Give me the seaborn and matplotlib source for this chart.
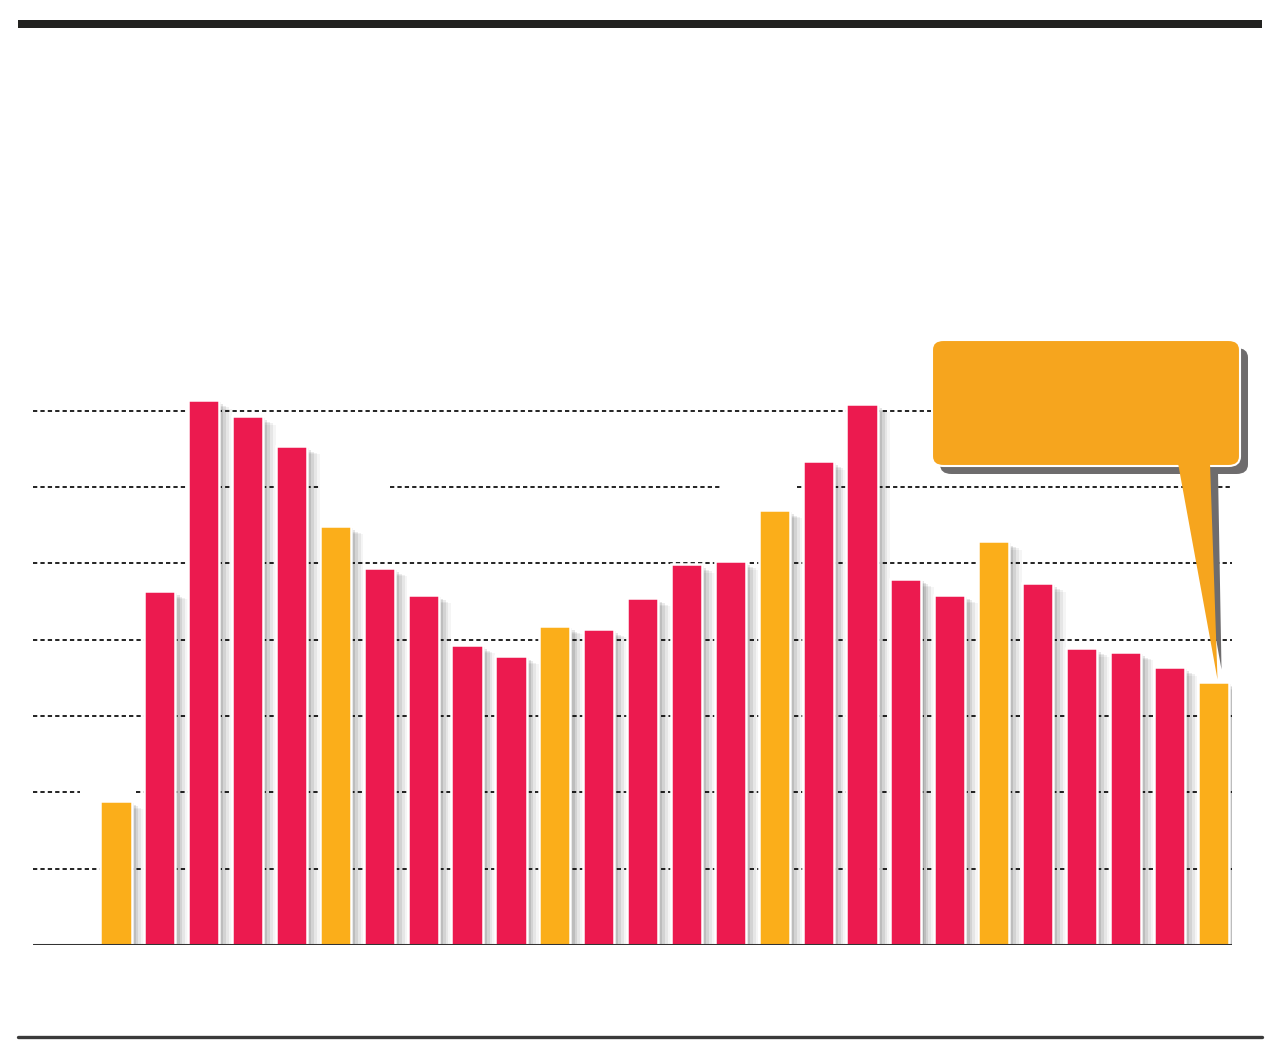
import pandas as pd
import matplotlib.pyplot as plt
import seaborn as sns
from matplotlib import patheffects as pe
from matplotlib.patches import FancyBboxPatch, Polygon, Rectangle
from matplotlib.lines import Line2D

sns.set_style('white')

# ---------------- DATA ----------------
periods = [str(i) for i in range(1, 27)]
values = [1.89, 4.64, 7.14, 6.93, 6.54, 5.49, 4.94, 4.59, 3.93, 3.79,
          4.18, 4.14, 4.55, 4.99, 5.03, 5.70, 6.34, 7.09, 4.80, 4.59,
          5.29, 4.74, 3.89, 3.84, 3.64, 3.45]
groups = ["hi", "lo", "lo", "lo", "lo", "hi", "lo", "lo", "lo", "lo",
          "hi", "lo", "lo", "lo", "lo", "hi", "lo", "lo", "lo", "lo",
          "hi", "lo", "lo", "lo", "lo", "hi"]
grid_levels = [1, 2, 3, 4, 5, 6, 7]

RED = "#EC1A4F"
ORANGE = "#FBAE1A"
CALLOUT = "#F6A51E"
SHADOW = "#6E6C6D"

W, H = 1280, 1062


def fx(px):
    return px / W


def fy(py):
    return 1 - py / H


fig = plt.figure(figsize=(W / 100, H / 100), dpi=100)
fig.patch.set_facecolor("white")

# axes placed so the baseline sits at y=945px, plot spans 33..1232px
ax = fig.add_axes([fx(33), fy(945), fx(1232) - fx(33), fy(330) - fy(945)])
ax.set_xlim(-1.89, 25.43)
ax.set_ylim(0, 8.06)
ax.axis('off')

# ---------------- GRID ----------------
gaps = {2: [(-0.82, 0.46)], 6: [(4.65, 6.24), (13.81, 15.52)]}
x0, x1 = ax.get_xlim()
for lvl in grid_levels:
    cuts = gaps.get(lvl, [])
    start = x0
    segs = []
    for a, b in cuts:
        segs.append((start, a))
        start = b
    segs.append((start, x1))
    for a, b in segs:
        ax.hlines(lvl, a, b, colors="#222222", linewidth=1.4,
                  linestyles=(0, (2.2, 1.6)), zorder=0)

# ---------------- BARS ----------------
df = pd.DataFrame({"period": periods, "value": values, "group": groups})
sns.barplot(data=df, x="period", y="value", hue="group",
            palette={"lo": RED, "hi": ORANGE}, saturation=1, width=0.71,
            dodge=False, legend=False, edgecolor="white", linewidth=1.8,
            ax=ax, zorder=2)
ax.set_xlim(x0, x1)
ax.set_ylim(0, 8.06)
ax.axis('off')

# soft drop shadow, stacked layers to fake a blur
for bar in ax.patches:
    bar.set_path_effects([
        pe.SimplePatchShadow(offset=(9, -6), shadow_rgbFace="#000000", alpha=0.04),
        pe.SimplePatchShadow(offset=(7, -5), shadow_rgbFace="#000000", alpha=0.06),
        pe.SimplePatchShadow(offset=(5, -4), shadow_rgbFace="#000000", alpha=0.08),
        pe.SimplePatchShadow(offset=(3, -3), shadow_rgbFace="#000000", alpha=0.10),
        pe.SimplePatchShadow(offset=(1.5, -1.5), shadow_rgbFace="#000000", alpha=0.10),
        pe.Normal(),
    ])

ax.axhline(0, color="#333333", linewidth=2.2, zorder=3)

# ---------------- CALLOUT ----------------
tip = ax.transData.transform((len(values) - 1 + 0.1, values[-1] + 0.03))
tip_f = fig.transFigure.inverted().transform(tip)

box_l, box_r, box_t, box_b = 932, 1240, 340, 466
sh = 8
fig.patches.append(FancyBboxPatch(
    (fx(box_l + sh), fy(box_b + sh)), fx(box_r - box_l), fy(box_t) - fy(box_b),
    boxstyle="round,pad=0,rounding_size=0.009", transform=fig.transFigure,
    facecolor=SHADOW, edgecolor="none", zorder=5))
fig.patches.append(Polygon(
    [(fx(1178 + sh), fy(box_b - 2 + sh)), (fx(1210 + sh), fy(box_b - 2 + sh)),
     (tip_f[0] + fx(4), tip_f[1] + 10 / H)],
    closed=True, transform=fig.transFigure, facecolor=SHADOW,
    edgecolor="none", zorder=5))
fig.patches.append(FancyBboxPatch(
    (fx(box_l), fy(box_b)), fx(box_r - box_l), fy(box_t) - fy(box_b),
    boxstyle="round,pad=0,rounding_size=0.009", transform=fig.transFigure,
    facecolor=CALLOUT, edgecolor="white", linewidth=1.5, zorder=6))
fig.patches.append(Polygon(
    [(fx(1178), fy(box_b - 3)), (fx(1210), fy(box_b - 3)), tuple(tip_f)],
    closed=True, transform=fig.transFigure, facecolor=CALLOUT,
    edgecolor="none", zorder=7))

# ---------------- FRAME RULES ----------------
fig.patches.append(Rectangle((fx(18), fy(28)), fx(1262 - 18), fy(20) - fy(28),
                             transform=fig.transFigure, facecolor="#222220",
                             edgecolor="none"))
fig.add_artist(Line2D([fx(18), fx(1262)], [fy(1037), fy(1037)],
                      color="#3a3a3a", linewidth=2.4))

fig.savefig("out.png", dpi=100)
